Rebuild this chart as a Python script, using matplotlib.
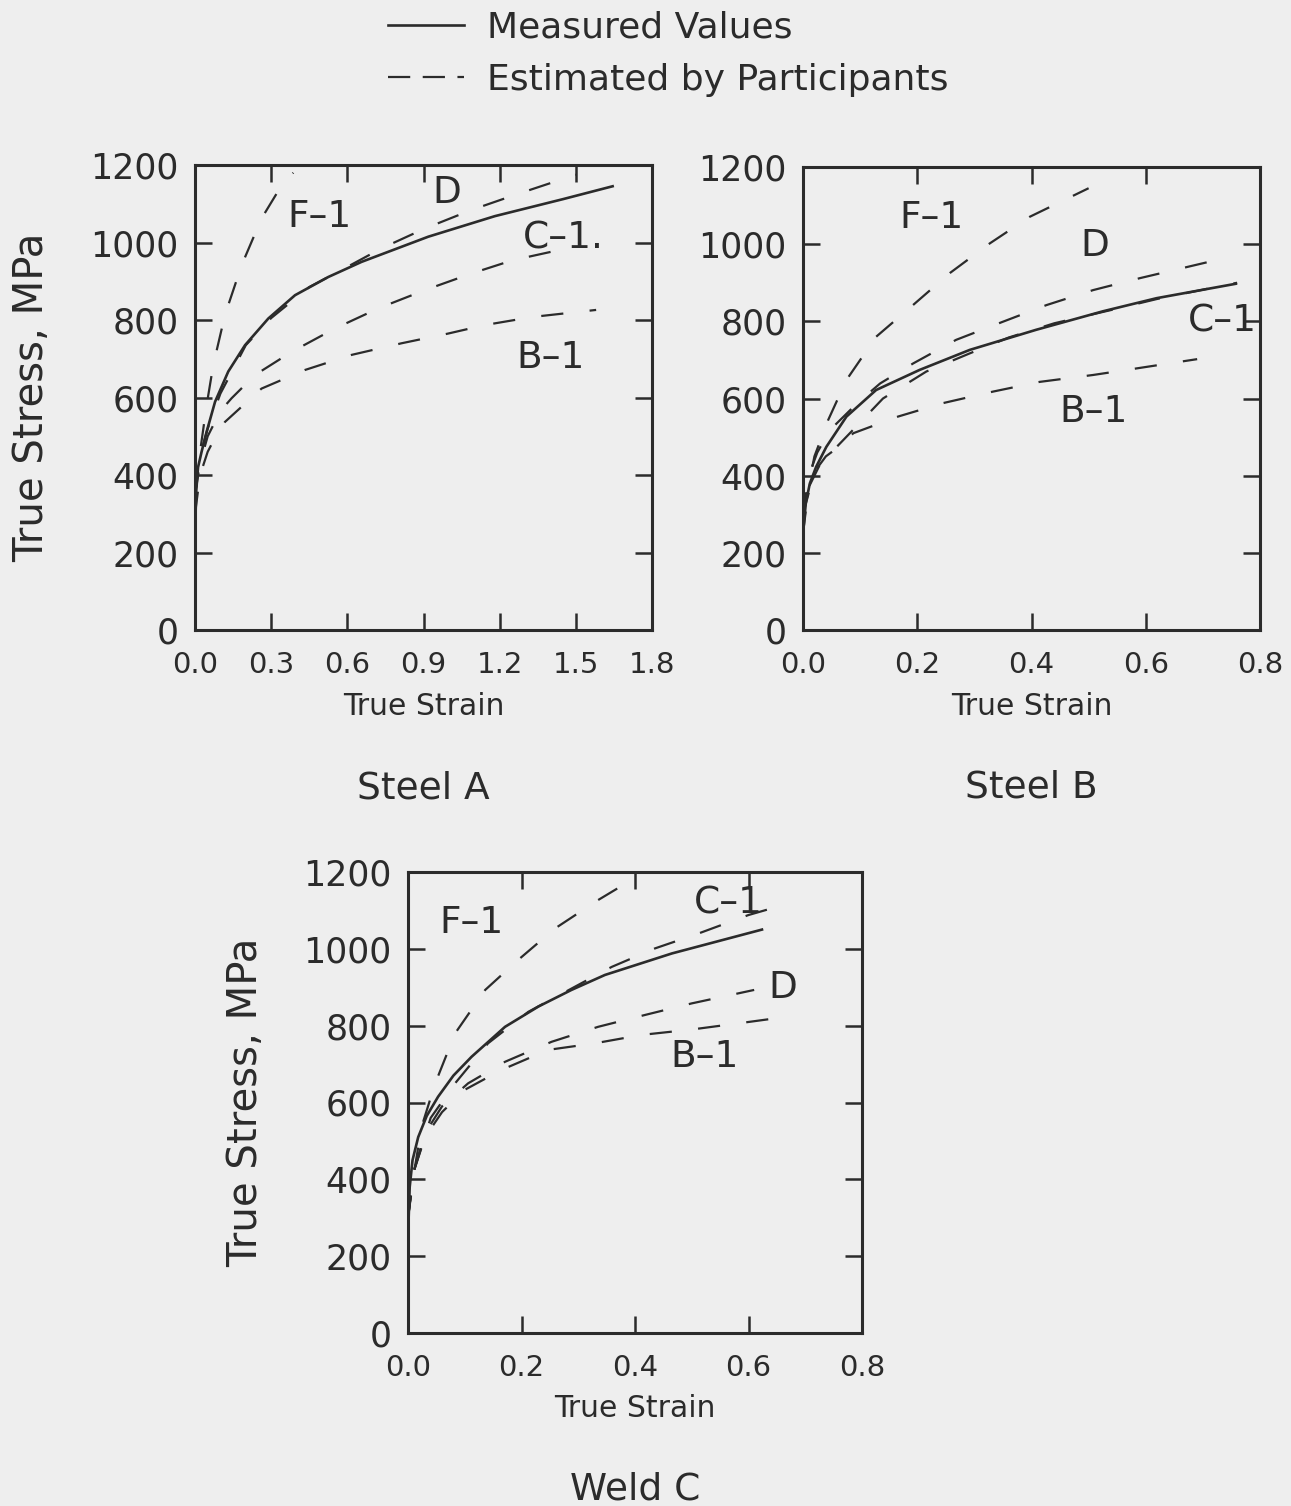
import matplotlib
matplotlib.use("Agg")
import matplotlib.pyplot as plt
from matplotlib.lines import Line2D

plt.rcParams['font.family'] = ['DejaVu Sans']
plt.rcParams['lines.scale_dashes'] = False

INK = '#2b2b2b'
BG = '#eeeeee'

# ---------------- Steel A ----------------
a_meas_x = [0.0, 0.005, 0.012, 0.026, 0.046, 0.079, 0.131, 0.197, 0.289, 0.394, 0.525, 0.656, 0.919, 1.181, 1.45, 1.65]
a_meas_y = [250, 360, 420, 460, 512, 589, 667, 735, 804, 864, 911, 950, 1015, 1068, 1112, 1146]
a_D_x = [0.0, 0.02, 0.05, 0.10, 0.20, 0.30, 0.45, 0.577, 0.735, 0.905, 1.089, 1.27, 1.50]
a_D_y = [350, 450, 520, 610, 735, 805, 885, 929, 985, 1036, 1084, 1125, 1175]
a_F_x = [0.0, 0.02, 0.046, 0.072, 0.118, 0.184, 0.262, 0.325, 0.387]
a_F_y = [350, 460, 581, 684, 813, 942, 1062, 1130, 1180]
a_C_x = [0.0, 0.02, 0.05, 0.10, 0.144, 0.236, 0.381, 0.551, 0.722, 0.905, 1.089, 1.25, 1.50]
a_C_y = [350, 430, 500, 565, 598, 658, 718, 778, 830, 877, 920, 954, 990]
a_B_x = [0.0, 0.02, 0.05, 0.086, 0.118, 0.262, 0.433, 0.617, 0.814, 0.997, 1.142, 1.331, 1.58]
a_B_y = [300, 400, 460, 505, 537, 623, 671, 710, 740, 765, 787, 808, 826]

# ---------------- Steel B ----------------
b_meas_x = [0.0, 0.005, 0.012, 0.023, 0.041, 0.076, 0.128, 0.204, 0.292, 0.408, 0.525, 0.619, 0.76]
b_meas_y = [250, 330, 380, 423, 475, 553, 622, 674, 726, 778, 826, 860, 898]
b_C_x = [0.0, 0.01, 0.03, 0.082, 0.14, 0.216, 0.292, 0.36, 0.44, 0.55, 0.62, 0.76]
b_C_y = [250, 370, 430, 510, 600, 670, 717, 758, 795, 833, 858, 900]
b_D_x = [0.0, 0.01, 0.025, 0.047, 0.095, 0.135, 0.193, 0.268, 0.35, 0.426, 0.508, 0.59, 0.67, 0.75]
b_D_y = [300, 400, 460, 518, 588, 639, 691, 752, 799, 842, 881, 912, 940, 968]
b_F_x = [0.0, 0.02, 0.044, 0.076, 0.128, 0.187, 0.257, 0.327, 0.397, 0.50]
b_F_y = [300, 450, 544, 648, 760, 835, 925, 1002, 1071, 1145]
b_B_x = [0.0, 0.02, 0.04, 0.071, 0.088, 0.166, 0.245, 0.333, 0.414, 0.508, 0.584, 0.69]
b_B_y = [300, 410, 450, 484, 510, 553, 588, 618, 643, 661, 678, 702]

# ---------------- Weld C ----------------
c_meas_x = [0.0, 0.003, 0.008, 0.018, 0.033, 0.053, 0.08, 0.112, 0.171, 0.23, 0.288, 0.347, 0.465, 0.626]
c_meas_y = [250, 380, 450, 510, 565, 615, 670, 719, 797, 850, 893, 932, 988, 1051]
c_C_x = [0.0, 0.01, 0.04, 0.083, 0.141, 0.212, 0.359, 0.435, 0.512, 0.60, 0.64]
c_C_y = [300, 420, 560, 650, 754, 836, 953, 1001, 1040, 1088, 1105]
c_F_x = [0.0, 0.012, 0.024, 0.048, 0.083, 0.136, 0.194, 0.259, 0.335, 0.406]
c_F_y = [300, 430, 537, 650, 780, 893, 971, 1053, 1127, 1190]
c_D_x = [0.0, 0.01, 0.03, 0.06, 0.106, 0.171, 0.253, 0.335, 0.418, 0.50, 0.61]
c_D_y = [300, 420, 520, 590, 650, 706, 758, 797, 828, 858, 893]
c_B_x = [0.0, 0.01, 0.03, 0.06, 0.10, 0.165, 0.247, 0.329, 0.412, 0.50, 0.582, 0.647]
c_B_y = [300, 420, 510, 575, 633, 685, 737, 754, 776, 790, 806, 819]

y_ticks = [0, 200, 400, 600, 800, 1000, 1200]
a_xticks = [0.0, 0.3, 0.6, 0.9, 1.2, 1.5, 1.8]
bc_xticks = [0.0, 0.2, 0.4, 0.6, 0.8]

panels = [
    dict(rect=[195/1291, 1-630/1506, 457/1291, 465/1506], xlim=1.8, xticks=a_xticks,
         meas=(a_meas_x, a_meas_y),
         est=[(a_D_x, a_D_y), (a_F_x, a_F_y), (a_C_x, a_C_y), (a_B_x, a_B_y)],
         labels=[("F–1", 0.49, 1066), ("D", 0.99, 1127), ("C–1.", 1.45, 1011), ("B–1", 1.40, 701)],
         title="Steel A", ylabel=True),
    dict(rect=[803/1291, 1-630/1506, 457/1291, 463/1506], xlim=0.8, xticks=bc_xticks,
         meas=(b_meas_x, b_meas_y),
         est=[(b_C_x, b_C_y), (b_D_x, b_D_y), (b_F_x, b_F_y), (b_B_x, b_B_y)],
         labels=[("F–1", 0.225, 1067), ("D", 0.511, 994), ("C–1", 0.735, 799), ("B–1", 0.508, 566)],
         title="Steel B", ylabel=False),
    dict(rect=[408/1291, 1-1333/1506, 454/1291, 461/1506], xlim=0.8, xticks=bc_xticks,
         meas=(c_meas_x, c_meas_y),
         est=[(c_C_x, c_C_y), (c_F_x, c_F_y), (c_D_x, c_D_y), (c_B_x, c_B_y)],
         labels=[("F–1", 0.112, 1066), ("C–1", 0.564, 1118), ("D", 0.661, 897), ("B–1", 0.523, 719)],
         title="Weld C", ylabel=True),
]

fig = plt.figure(figsize=(12.91, 15.06), dpi=100, facecolor=BG)

DASH = (16, 19)

for p in panels:
    ax = fig.add_axes(p['rect'])
    ax.set_facecolor(BG)
    ax.plot(p['meas'][0], p['meas'][1], color=INK, lw=1.9, solid_capstyle='butt',
            solid_joinstyle='round')
    for ex, ey in p['est']:
        ax.plot(ex, ey, color=INK, lw=1.6, linestyle=(0, DASH), dash_capstyle='butt')
    for txt, tx, ty in p['labels']:
        ax.text(tx, ty, txt, fontsize=27, color=INK, ha='center', va='center')
    ax.set_xlim(0, p['xlim'])
    ax.set_ylim(0, 1200)
    ax.set_xticks(p['xticks'])
    ax.set_xticklabels([f"{v:.1f}" for v in p['xticks']])
    ax.set_yticks(y_ticks)
    ax.set_yticklabels([str(v) for v in y_ticks])
    ax.tick_params(axis='both', direction='in', length=12, width=1.8, colors=INK,
                   top=True, right=True)
    ax.tick_params(axis='x', labelsize=21, pad=15)
    ax.tick_params(axis='y', labelsize=25, pad=12)
    for s in ax.spines.values():
        s.set_linewidth(2.2)
        s.set_color(INK)
    ax.set_xlabel("True Strain", fontsize=21.5, color=INK)
    ax.xaxis.set_label_coords(0.5, -0.133)
    ax.xaxis.label.set_va('top')
    if p['ylabel']:
        ax.set_ylabel("True Stress, MPa", fontsize=29, color=INK)
        ax.yaxis.set_label_coords(-0.312, 0.5)
    ax.text(0.5, -0.34, p['title'], transform=ax.transAxes, fontsize=27,
            color=INK, ha='center', va='center')

handles = [Line2D([0], [0], color=INK, lw=1.9),
           Line2D([0], [0], color=INK, lw=1.6, linestyle=(0, (16, 9)))]
fig.legend(handles, ["Measured Values", "Estimated by Participants"],
           loc='upper left', bbox_to_anchor=(388/1291, 1 - 11/1506),
           frameon=False, fontsize=26, handlelength=2.1, handletextpad=0.65,
           labelspacing=0.5, borderpad=0, borderaxespad=0, labelcolor=INK)

fig.savefig("out.png", dpi=100, facecolor=BG)
